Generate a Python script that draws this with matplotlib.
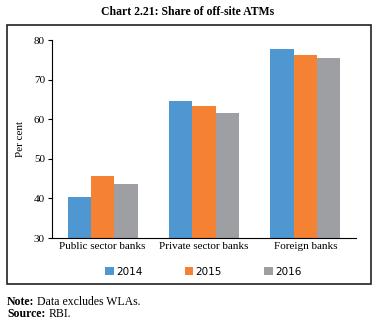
import matplotlib.pyplot as plt
import numpy as np
from matplotlib.patches import Rectangle

# data
categories = ['Public sector banks', 'Private sector banks', 'Foreign banks']
years = ['2014', '2015', '2016']
share_2014 = [40.3, 64.6, 77.7]
share_2015 = [45.7, 63.4, 76.3]
share_2016 = [43.7, 61.6, 75.5]
colors = ['#4e97d1', '#f58232', '#9d9fa2']

plt.rcParams['font.family'] = ['Liberation Serif', 'DejaVu Serif']

fig = plt.figure(figsize=(3.76, 3.23), dpi=100)
ax = fig.add_axes([0.138, 0.263, 0.809, 0.613])

x = np.arange(len(categories))
w = 0.23
for i, (vals, yr) in enumerate(zip([share_2014, share_2015, share_2016], years)):
    ax.bar(x + (i - 1) * w, vals, width=w, color=colors[i], label=yr)

ax.set_ylim(30, 80)
ax.set_xlim(-0.5, 2.5)
ax.set_yticks([30, 40, 50, 60, 70, 80])
ax.set_xticks(x)
ax.set_xticklabels(categories)
ax.tick_params(axis='both', labelsize=8, length=3, width=0.8, pad=2)
ax.tick_params(axis='x', length=0, pad=3)
ax.spines['top'].set_visible(False)
ax.spines['right'].set_visible(False)
ax.set_ylabel('Per cent', fontsize=8, labelpad=6)

ax.legend(loc='center left', bbox_to_anchor=(0.145, -0.17), ncol=3, frameon=False,
          handlelength=0.8, handleheight=0.8, handletextpad=0.2,
          columnspacing=4.1, prop={'family': ['DejaVu Sans'], 'size': 7.5})

# outer frame
fig.patches.append(Rectangle((0.0186, 0.121), 0.968, 0.802, transform=fig.transFigure,
                             fill=False, edgecolor='#222222', linewidth=1.2))

fig.text(0.5, 0.962, 'Chart 2.21: Share of off-site ATMs', ha='center', va='center',
         fontsize=8.5, fontweight='bold')

# footnotes: bold label followed by plain text
for yy, lab, txt in [(0.056, 'Note:', 'Data excludes WLAs.'), (0.019, 'Source:', 'RBI.')]:
    t = fig.text(0.019, yy, lab, ha='left', va='baseline', fontsize=8.5, fontweight='bold')
    ax.annotate(txt, xy=(1, 0), xycoords=t, xytext=(2, 0), textcoords='offset points',
                va='bottom', ha='left', fontsize=8.5, annotation_clip=False)

fig.savefig('out.png', dpi=100)
